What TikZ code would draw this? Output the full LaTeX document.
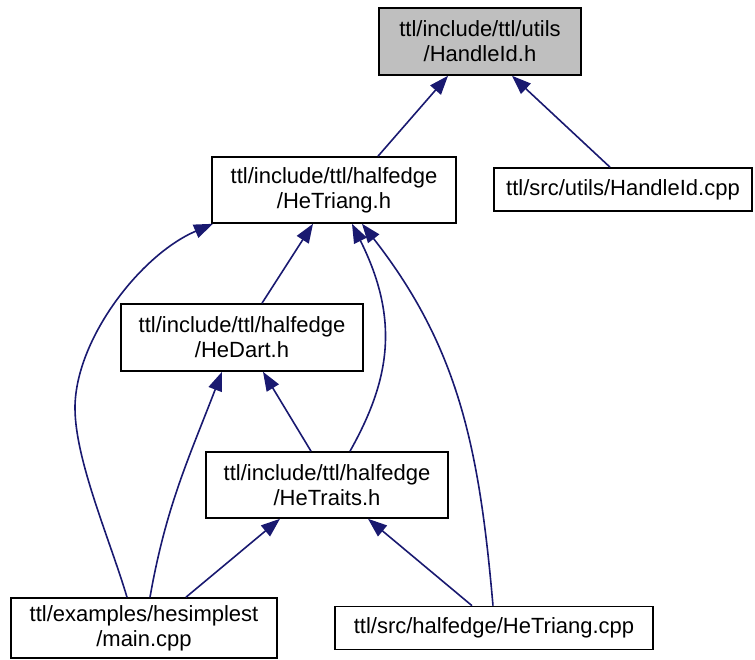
\documentclass[tikz,border=0pt]{standalone}
\usepackage{fontspec}
\setmainfont{Liberation Sans}
\usetikzlibrary{arrows.meta}
\definecolor{edgeblue}{HTML}{191970}
\definecolor{boxgray}{HTML}{BFBFBF}
\tikzset{
    block/.style = {draw, rectangle, line width=1.6pt,
        inner sep=0pt, align=center,
        font=\fontsize{22}{25}\selectfont},
    arrow/.style = {draw=edgeblue, line width=1.6pt,
        -{Triangle[length=19pt,width=14pt,fill=edgeblue]}}
}

\begin{document}
\begin{tikzpicture}[x=1pt,y=-1pt]
        \useasboundingbox (0,0) rectangle (755,660);
        \node [block,fill=boxgray,minimum width=202pt,minimum height=67pt] (handleidh) at (480,41.5) {ttl/include/ttl/utils\\/HandleId.h};
        \node [block,minimum width=244pt,minimum height=66pt] (hetriangh) at (334,190) {ttl/include/ttl/halfedge\\/HeTriang.h};
        \node [block,minimum width=258pt,minimum height=43pt] (handleidcpp) at (623,189.5) {ttl/src/utils/HandleId.cpp};
        \node [block,minimum width=242pt,minimum height=67pt] (hedarth) at (242,337.5) {ttl/include/ttl/halfedge\\/HeDart.h};
        \node [block,minimum width=242pt,minimum height=66pt] (hetraitsh) at (327,485) {ttl/include/ttl/halfedge\\/HeTraits.h};
        \node [block,minimum width=266pt,minimum height=60pt] (maincpp) at (144,628) {ttl/examples/hesimplest\\/main.cpp};
        \node [block,minimum width=318pt,minimum height=43pt] (hetriangcpp) at (494,628) {ttl/src/halfedge/HeTriang.cpp};
        \draw [arrow] ([xshift=44pt]hetriangh.north) -- ([xshift=-32pt]handleidh.south);
        \draw [arrow] ([xshift=-13pt]handleidcpp.north) -- ([xshift=32pt]handleidh.south);
        \draw [arrow] ([xshift=20pt]hedarth.north) -- ([xshift=-21pt]hetriangh.south);
        \draw [arrow] ([xshift=-17pt]maincpp.north) .. controls (110,540) and (75,460) .. (75,408)
            .. controls (75,340) and (140,255) .. ([xshift=-121pt]hetriangh.south);
        \draw [arrow] ([xshift=23pt]hetraitsh.north) .. controls (390,380) and (400,320) .. ([xshift=18pt]hetriangh.south);
        \draw [arrow] ([xshift=-1pt]hetriangcpp.north) to[out=95,in=-52] ([xshift=28pt]hetriangh.south);
        \draw [arrow] ([xshift=6pt]maincpp.north) to[out=80,in=-111] ([xshift=-20pt]hedarth.south);
        \draw [arrow] ([xshift=-16pt]hetraitsh.north) -- ([xshift=21pt]hedarth.south);
        \draw [arrow] ([xshift=42pt]maincpp.north) -- ([xshift=-47pt]hetraitsh.south);
        \draw [arrow] ([xshift=-22pt]hetriangcpp.north) -- ([xshift=41pt]hetraitsh.south);
    \end{tikzpicture}
\end{document}
